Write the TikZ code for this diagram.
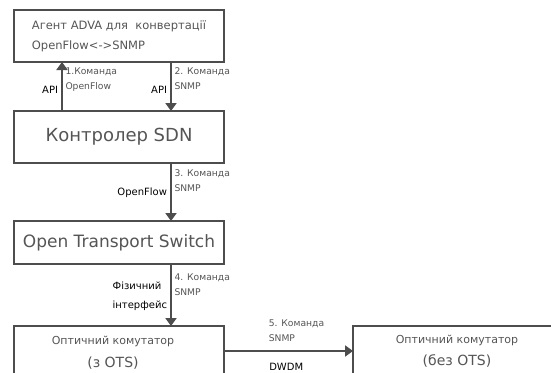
\documentclass[tikz,border=0pt]{standalone}
\usepackage{fontspec}
\setmainfont{DejaVu Sans}
\usetikzlibrary{arrows.meta}
\definecolor{linegray}{HTML}{4D4D4D}
\definecolor{textgray}{HTML}{555555}
\tikzset{
    box/.style={draw=linegray, line width=2pt, anchor=north west, inner sep=0pt, outer sep=0pt, text=textgray, align=center},
    conn/.style={draw=linegray, line width=2pt, -{Triangle[width=11pt,length=8pt]}},
    lab/.style={text=textgray, font=\fontsize{9.2}{15}\selectfont, align=left, inner sep=2.5pt},
    side/.style={text=black, font=\fontsize{10}{19}\selectfont, align=left, inner sep=3pt},
}
\begin{document}
\begin{tikzpicture}[x=1pt,y=-1pt]
    \clip (0,0) rectangle (551,372);
    \fill[white] (0,0) rectangle (551,372);

    \node[box, minimum width=210pt, minimum height=52pt, align=left, font=\fontsize{11.5}{20}\selectfont] (agent) at (14,10) {Агент ADVA для\ \ конвертації\\OpenFlow<->SNMP};
    \node[box, minimum width=210pt, minimum height=52pt, font=\fontsize{18}{22}\selectfont] (ctrl) at (14,111) {Контролер SDN};
    \node[box, minimum width=210pt, minimum height=43pt, font=\fontsize{17}{20}\selectfont] (ots) at (14,221) {Open Transport Switch};
    \node[box, minimum width=210pt, minimum height=54pt, font=\fontsize{11}{14}\selectfont] (optA) at (14,326) {\hspace*{-12pt}Оптичний комутатор\\[9pt]\hspace*{-12pt}{\fontsize{14}{17}\selectfont(з OTS)}};
    \node[box, minimum width=208pt, minimum height=50pt, font=\fontsize{11}{14}\selectfont] (optB) at (353,326) {Оптичний комутатор\\[8pt]{\fontsize{14}{17}\selectfont(без OTS)}};

    % API calls between controller and agent
    \draw[conn] ([xshift=48pt]ctrl.north west) -- node[lab, right, pos=0.65] {1.Команда\\OpenFlow} node[side, left, pos=0.43] {API} ([xshift=48pt]agent.south west);
    \draw[conn] ([xshift=157pt]agent.south west) -- node[lab, right, pos=0.34] {2. Команда\\SNMP} node[side, left, pos=0.57] {API} ([xshift=157pt]ctrl.north west);
    \draw[conn] ([xshift=157pt]ctrl.south west) -- node[lab, right, pos=0.31] {3. Команда\\SNMP} node[side, left, pos=0.52] {OpenFlow} ([xshift=157pt]ots.north west);
    \draw[conn] ([xshift=157pt]ots.south west) -- node[lab, right, pos=0.34] {4. Команда\\SNMP} node[side, left, pos=0.52] {Фізичний\\інтерфейс} ([xshift=157pt]optA.north west);
    \draw[conn] ([yshift=-25pt]optA.north east) -- node[lab, pos=0.32, anchor=south west, yshift=6pt] {5. Команда\\SNMP} node[side, pos=0.32, anchor=north west, yshift=-8pt] {DWDM} ([yshift=-25pt]optB.north west);
\end{tikzpicture}
\end{document}
